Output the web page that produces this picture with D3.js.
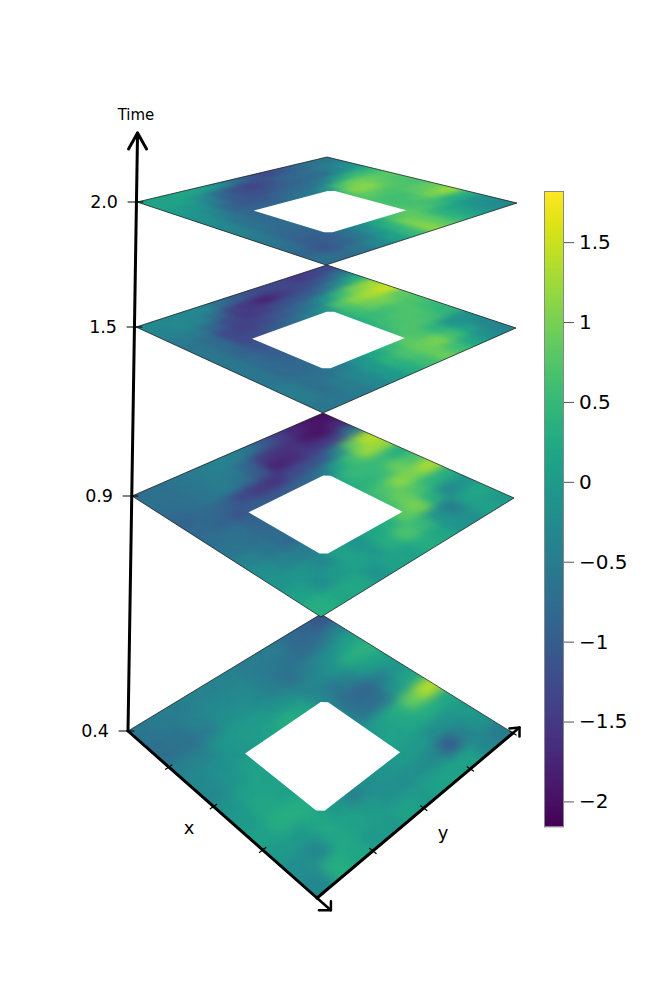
<!DOCTYPE html>
<html><head><meta charset="utf-8">
<script src="https://cdn.jsdelivr.net/npm/d3@7"></script>
<style>html,body{margin:0;padding:0;background:#fff}svg{display:block}text{font-family:"DejaVu Sans",sans-serif;fill:#000}</style>
</head><body>
<script>
// ---- data ----
const times = [0.4, 0.9, 1.5, 2.0];
const timeTop = 2.276;
const xTicks = [0.25, 0.5, 0.75];
const yTicks = [0.25, 0.5, 0.75, 1];
const colorTicks = [-2, -1.5, -1, -0.5, 0, 0.5, 1, 1.5];
const colorDomain = [-2.16, 1.82];
const holeX = [0.39, 0.39, 0.41, 0.775, 0.775, 0.755];
const holeY = [0.235, 0.615, 0.635, 0.635, 0.255, 0.235];
// rows: x from 0 to 1, columns: y from 0 to 1
const slice04 = [
[-.6,-.5,-.5,-.4,-.4,-.4,-.5,-.5,-.5,-.8,-.9,-1.1],
[-.7,-.6,-.4,-.3,-.3,-.3,-.5,-.6,-.7,-.8,-.7,-.4],
[-.7,-.7,-.5,-.2,-.2,-.3,-.5,-.7,-.5,-.3,-.1,.1],
[-.4,-.4,-.1,0,0,-.1,-.2,-.4,-.3,-.1,.3,.4],
[-.3,-.2,-.1,0,.1,.3,.2,-.3,-.6,-.4,0,.1],
[-.3,-.1,.1,.1,.1,.1,0,-.4,-.8,-.9,-.5,-.1],
[-.1,.1,.1,.1,.1,.1,-.1,-.4,-.7,-.7,-.1,.2],
[0,.2,.1,.1,.1,.1,0,-.1,.1,.3,.9,1.4],
[.1,.3,.3,.2,.1,.1,.1,.1,.1,.2,.3,.2],
[0,0,.2,0,-.4,-.2,-.1,0,0,-.2,-.2,0],
[-.2,-.3,.2,.1,0,-.2,-.2,-.2,-.3,-1,-.4,-.1],
[-.3,.3,.2,0,0,.1,0,.1,.1,.1,-.3,-.5]];
const slice09 = [
[-.7,-.7,-.6,-.5,-.4,-.4,-.6,-1,-1.4,-1.7,-1.9,-2],
[-.7,-.7,-.6,-.5,-.5,-.9,-1.5,-1.6,-1.6,-1.9,-2,-1.7],
[-.8,-.7,-.6,-.5,-.7,-1.1,-1.8,-1.7,-1.5,-1.5,-1.4,-.6],
[-.9,-.8,-.9,-1.3,-1.5,-1.6,-1.3,-1.2,-1.1,-.4,.8,1.4],
[-.8,-.9,-1.1,-1,-1.1,-1,-.9,-.6,.1,.6,1.2,1.2],
[-.7,-.7,-.9,-.8,-.7,-.5,-.2,.2,.5,.5,.5,.3],
[-.6,-.7,-.8,-.7,-.6,-.3,0,.3,.4,.5,.9,.7],
[-.4,-.6,-.8,-.6,-.4,-.1,.2,.5,.7,1.1,1,1.3],
[-.2,-.4,-.5,-.4,-.2,0,.3,.6,.9,.7,.4,.3],
[-.1,-.1,-.3,.1,-.1,.2,.3,.8,1,.3,-.3,-.1],
[.1,-.2,0,.1,0,.3,.7,.5,-.1,-.5,.1,.2],
[.3,.2,.2,-.1,.1,.1,.3,.2,-.1,-.2,.1,0]];
const slice15 = [
[-.3,-.3,-.3,-.3,-.7,-1,-1.2,-1.3,-1.3,-1.5,-1.4,-1.3],
[-.4,-.3,-.4,-.8,-1.4,-1.6,-1.8,-1.5,-1.3,-1.2,-1,-.6],
[-.5,-.5,-.9,-1.3,-1.5,-1.4,-1.2,-1.1,-1,-.7,-.2,.3],
[-.6,-.8,-1.3,-1.4,-1.3,-1.1,-.9,-.6,-.1,.5,1,1.2],
[-.6,-.8,-1.3,-1.2,-1,-.8,-.5,-.2,.7,1.1,1.3,1.5],
[-.6,-.9,-1.1,-1,-.8,-.5,-.1,.3,.6,.9,1,.8],
[-.6,-.8,-1,-.9,-.7,-.4,0,.3,.5,.6,.7,.7],
[-.6,-.8,-.9,-.8,-.6,-.3,0,.4,.6,.7,.7,.5],
[-.6,-.8,-.8,-.7,-.4,-.1,.2,.5,.7,.7,.6,.4],
[-.5,-.7,-.7,-.5,-.1,.2,.5,.8,.7,.4,-.1,-.2],
[-.5,-.7,-.5,-.3,0,.4,.7,.9,1,.6,.1,-.3],
[-.6,-.6,-.5,-.3,0,.3,.6,.9,.6,.2,-.2,-.4]];
const slice20 = [
[.1,.1,.2,.1,-.2,-.7,-1.1,-1.3,-1.1,-.9,-.7,-.6],
[.1,.1,-.2,-.8,-1.2,-1.4,-1.2,-.9,-.8,-.7,-.5,-.3],
[0,-.1,-.5,-1,-1.2,-1.2,-1,-.9,-.8,-.7,-.3,0],
[-.1,-.3,-.9,-1.1,-1.1,-.9,-.8,-.7,-.4,.2,.5,.5],
[-.2,-.5,-.9,-.9,-.9,-.7,-.6,-.2,.7,1,.9,.8],
[-.3,-.7,-.8,-.8,-.6,-.4,-.1,.5,1.1,1.1,.8,.7],
[-.4,-.7,-.8,-.7,-.5,-.3,.1,.7,.8,.7,.7,.7],
[-.5,-.8,-.8,-.6,-.3,0,.3,.7,.6,.6,.8,.9],
[-.6,-.9,-.9,-.6,-.2,.1,.5,.7,.6,.7,1,1.2],
[-.7,-1,-1,-.7,-.3,.2,.7,.8,.7,.5,.3,.3],
[-.9,-1.1,-.9,-.6,-.1,.4,1,.8,.4,.2,-.1,-.2],
[-.7,-.8,-.6,-.3,.1,.5,1.1,.8,.4,.1,-.2,-.3]];
const slices = [slice04, slice09, slice15, slice20];

// ---- layout ----
const W = 650, H = 1000;
const svg = d3.select("body").append("svg").attr("width", W).attr("height", H);
const corner = (xs, ys) => ({
  x: d3.scaleLinear().domain(times).range(xs),
  y: d3.scaleLinear().domain(times).range(ys)
});
const cLeft = corner([128,132,136,137],[731,496,327,202]);
const cBottom = corner([317,321,323,326],[898,617,413,265]);
const cRight = corner([513,514,516,517],[733,498,328,203]);
const cTop = corner([321,323,327,327],[614,413,265,157]);

function homography(t) {
  const A=[cLeft.x(t),cLeft.y(t)],B=[cBottom.x(t),cBottom.y(t)],C=[cRight.x(t),cRight.y(t)],D=[cTop.x(t),cTop.y(t)];
  const dx1=B[0]-C[0],dx2=D[0]-C[0],sx=A[0]-B[0]+C[0]-D[0];
  const dy1=B[1]-C[1],dy2=D[1]-C[1],sy=A[1]-B[1]+C[1]-D[1];
  const den=dx1*dy2-dx2*dy1;
  const g=(sx*dy2-dx2*sy)/den,h=(dx1*sy-sx*dy1)/den;
  const a=B[0]-A[0]+g*B[0],b=D[0]-A[0]+h*D[0],d=B[1]-A[1]+g*B[1],e=D[1]-A[1]+h*D[1];
  return (u,v)=>{const w=g*u+h*v+1;return [(a*u+b*v+A[0])/w,(d*u+e*v+A[1])/w];};
}
const line = d3.line();
const color = d3.scaleSequential(d3.interpolateViridis).domain(colorDomain);
const defs = svg.append("defs");

// ---- slices ----
slices.forEach((grid, k) => {
  const t = times[k], P = homography(t);
  const rows = grid.length, cols = grid[0].length;
  const uS = d3.scaleLinear().domain([0, rows]).range([0, 1]);
  const vS = d3.scaleLinear().domain([0, cols]).range([0, 1]);
  const outer = [[0,0],[1,0],[1,1],[0,1]].map(p => P(p[0],p[1]));
  const hole = holeX.map((x,i) => P(x, holeY[i]));
  const shape = line(outer) + "Z" + line(hole) + "Z";
  defs.append("clipPath").attr("id","clip"+k).append("path").attr("d",shape).attr("clip-rule","evenodd");
  const h = cBottom.y(t)-cTop.y(t);
  defs.append("filter").attr("id","soft"+k).attr("x","-10%").attr("y","-10%").attr("width","120%").attr("height","120%")
    .attr("color-interpolation-filters","sRGB")
    .append("feGaussianBlur").attr("stdDeviation", `5.5 ${(5.5*h/290).toFixed(2)}`);
  const g = svg.append("g").attr("clip-path",`url(#clip${k})`).append("g").attr("filter",`url(#soft${k})`);
  const cells = grid.flatMap((row,i)=>row.map((val,j)=>({i,j,val})));
  g.selectAll("path").data(cells).join("path")
    .attr("d", c => {
      const u0 = c.i===0?-0.15:uS(c.i), u1 = c.i===rows-1?1.15:uS(c.i+1);
      const v0 = c.j===0?-0.15:vS(c.j), v1 = c.j===cols-1?1.15:vS(c.j+1);
      return line([P(u0,v0),P(u1,v0),P(u1,v1),P(u0,v1)])+"Z";
    })
    .attr("fill", c => color(c.val)).attr("stroke", c => color(c.val)).attr("stroke-width",0.8);
  svg.append("path").attr("d",line(outer)+"Z").attr("fill","none").attr("stroke","#111").attr("stroke-width",0.7);
});

// ---- axes ----
const base = homography(times[0]);
const axes = svg.append("g").attr("fill","none").attr("stroke","#000").attr("stroke-linecap","round").attr("stroke-linejoin","round");
const pA = base(0,0), pB = base(1,0), pC = base(1,1);
const tipT = [cLeft.x(timeTop), cLeft.y(timeTop)];
axes.append("path").attr("stroke-width",3).attr("d",line([pA,pB]));
axes.append("path").attr("stroke-width",3).attr("d",line([pB,pC]));
axes.append("path").attr("stroke-width",3).attr("d",line([pA,tipT]));
axes.append("path").attr("stroke-width",3).attr("d",line([[tipT[0]-9,tipT[1]+16],tipT,[tipT[0]+9,tipT[1]+16]]));
const tipX = base(1.06,0), tipY = base(1,1.04);
axes.append("path").attr("stroke-width",2.5).attr("d",line([pB,tipX]));
axes.append("path").attr("stroke-width",2.5).attr("d",line([pC,tipY]));
axes.append("path").attr("stroke-width",2.5).attr("d",line([[tipX[0],tipX[1]-9],tipX,[tipX[0]-12,tipX[1]]]));
axes.append("path").attr("stroke-width",2.5).attr("d",line([[tipY[0]-10,tipY[1]+1],tipY,[tipY[0],tipY[1]+9]]));
axes.selectAll("path.xt").data(xTicks).join("path").attr("class","xt").attr("stroke-width",1.2)
  .attr("d",u=>line([base(u,-0.014),base(u,0.014)]));
axes.selectAll("path.yt").data(yTicks).join("path").attr("class","yt").attr("stroke-width",1.2)
  .attr("d",v=>line([base(1-0.014,v),base(1+0.014,v)]));
axes.selectAll("path.tt").data(times).join("path").attr("class","tt").attr("stroke-width",1)
  .attr("d",t=>line([[cLeft.x(t)-9,cLeft.y(t)],[cLeft.x(t)+6,cLeft.y(t)]]));
svg.selectAll("text.tl").data(times).join("text").attr("class","tl")
  .attr("x",t=>cLeft.x(t)-19).attr("y",t=>cLeft.y(t)+6).attr("text-anchor","end").attr("font-size",17.5)
  .text(d3.format(".1f"));
svg.append("text").attr("x",136).attr("y",120).attr("text-anchor","middle").attr("font-size",15).text("Time");
svg.append("text").attr("x",189).attr("y",834).attr("text-anchor","middle").attr("font-size",18).text("x");
svg.append("text").attr("x",443).attr("y",839).attr("text-anchor","middle").attr("font-size",18).text("y");

// ---- colour bar ----
const cbY = d3.scaleLinear().domain(colorDomain).range([827,191]);
const cb = svg.append("g");
cb.selectAll("rect").data(d3.range(0,636)).join("rect")
  .attr("x",544).attr("width",20).attr("y",d=>191+d).attr("height",1.2)
  .attr("fill",d=>color(cbY.invert(191+d+0.5)));
cb.append("rect").attr("x",544.5).attr("y",191.5).attr("width",19).attr("height",635).attr("fill","none").attr("stroke","#888").attr("stroke-width",1);
const axis = d3.axisRight(cbY).tickValues(colorTicks).tickSize(10).tickPadding(5).tickFormat(d3.format("~g"));
const ag = svg.append("g").attr("transform","translate(564,0)").call(axis);
ag.select(".domain").remove();
ag.selectAll("line").attr("stroke","#555");
ag.selectAll("text").attr("font-size",20).attr("font-family",'"DejaVu Sans",sans-serif').attr("fill","#000");
</script>
</body></html>
